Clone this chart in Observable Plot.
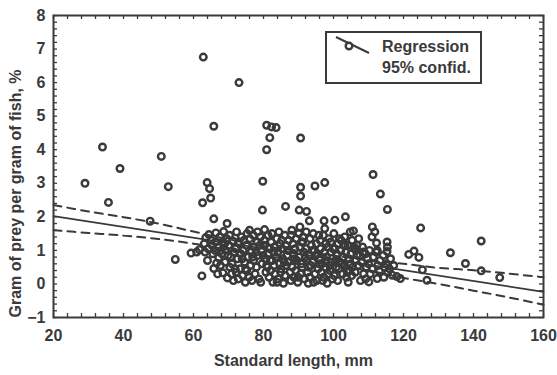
<!DOCTYPE html>
<html><head><meta charset="utf-8">
<script src="https://cdn.jsdelivr.net/npm/d3@7"></script>
<script src="https://cdn.jsdelivr.net/npm/@observablehq/plot@0.6"></script>
<style>body{margin:0;background:#fff} #chart{width:557px;height:375px}</style>
</head><body><div id="chart"></div>
<script>
const ink = "#3a3a3a";
const xTicks = [20, 40, 60, 80, 100, 120, 140, 160];
const yTicks = [-1, 0, 1, 2, 3, 4, 5, 6, 7, 8];
const xLabel = "Standard length, mm";
const yLabel = "Gram of prey per gram of fish, %";
const legendLabels = ["Regression", "95% confid."];

// Regression line (endpoints)
const regLength = [20, 160];
const regRatio = [2.02, -0.235];

// 95% confidence limits
const bandLength = [20, 30, 40, 50, 60, 70, 80, 90, 100, 110, 120, 130, 140, 150, 160];
const bandUpper = [2.35, 2.16, 1.99, 1.8, 1.56, 1.33, 1.13, 0.98, 0.85, 0.7, 0.6, 0.48, 0.41, 0.31, 0.2];
const bandLower = [1.6, 1.52, 1.44, 1.34, 1.2, 1.02, 0.85, 0.7, 0.55, 0.4, 0.18, 0.0, -0.2, -0.4, -0.62];

// Scattered fish (standard length mm, prey/fish %)
const outliers = [
  [29,3.0],[34,4.08],[35.7,2.43],[39,3.44],[47.6,1.87],[50.8,3.8],[52.8,2.9],[54.8,0.73],
  [59.3,0.92],[60.9,0.95],[61.7,1.02],[62.4,0.24],[62.6,2.42],[62.8,6.76],[63.9,3.02],[64.6,2.84],
  [64.9,2.56],[65.8,4.7],[65.8,1.94],[69.6,1.8],[73,6.0],[79.8,3.06],[80.9,4.73],[82.3,4.68],
  [83.6,4.66],[81.8,4.36],[80.9,4.0],[79.7,2.2],[86.3,2.31],[90.2,2.2],[92.3,2.16],[93.1,1.88],
  [90.4,1.7],[90.6,4.35],[90.6,2.88],[90.6,2.62],[94.7,2.92],[97.5,3.02],[95.8,1.45],[97.3,1.88],
  [97.5,1.65],[100.4,1.9],[103.4,2.0],[111.3,3.26],[113.4,2.68],[115.4,2.22],
  [111.1,1.7],[111.8,1.55],[111,1.4],[112.3,1.22],[115.3,1.25],[115.4,1.1],[115.3,0.97],[112.5,1.0],
  [106.7,1.15],[106.4,1.0],[106.7,0.86],[121.5,0.88],[123,0.98],[124.4,0.79],[124.9,1.67],
  [125.4,0.42],[126.7,0.11],[119.1,0.16],[133.4,0.93],[137.7,0.61],[142.2,1.28],[142.2,0.39],
  [147.5,0.19],[110.1,0.06],[112.5,0.16],[114.4,0.2],[116.8,0.26]
];

// Dense cluster of fish
const cluster = [
  [63.1,1.2],[63.5,1.38],[63.3,0.95],
  [64.2,1.05],[64.4,1.47],[64.0,0.7],
  [65.1,1.3],[65.5,0.9],[65.8,0.46],[65.3,1.15],
  [66.4,1.52],[66.1,1.0],[66.6,0.62],[66.3,1.25],
  [67.2,0.78],[67.5,1.4],[67.0,1.1],[67.7,0.55],
  [68.3,1.25],[68.1,0.9],[68.6,1.56],[68.4,0.33],
  [69.2,1.0],[69.5,1.35],[69.0,0.65],[69.7,0.18],
  [70.3,1.45],[70.1,1.15],[70.6,0.8],[70.4,0.5],
  [71.2,1.28],[71.6,0.95],[71.4,0.1],[71.0,0.6],
  [72.3,1.55],[72.0,1.05],[72.6,0.75],[72.2,0.35],[72.8,0.15],
  [73.1,1.2],[73.5,0.9],[73.3,0.45],[73.7,1.4],
  [74.2,1.0],[74.6,0.65],[74.0,0.25],[74.4,1.3],[74.8,0.05],
  [75.3,1.5],[75.1,1.15],[75.6,0.8],[75.2,0.4],
  [76.1,1.35],[76.5,0.95],[76.3,0.55],[76.7,0.1],[76.0,1.6],
  [77.4,1.1],[77.2,0.7],[77.6,0.3],[77.1,1.45],
  [78.2,1.25],[78.5,0.85],[78.0,0.5],[78.7,0.15],[78.3,1.55],
  [79.1,1.4],[79.4,1.0],[79.6,0.6],[79.2,0.05],
  [80.3,1.62],[80.1,1.15],[80.5,0.75],[80.7,0.35],[80.2,1.3],
  [81.4,0.9],[81.1,0.5],[81.6,0.2],[81.3,1.45],[81.8,1.05],
  [82.2,1.25],[82.5,0.7],[82.0,0.4],[82.7,0.05],[82.4,1.5],
  [83.1,1.1],[83.6,0.8],[83.3,0.3],[83.8,1.35],[83.0,0.55],
  [84.4,1.55],[84.1,0.95],[84.6,0.6],[84.2,0.15],[84.8,1.2],
  [85.2,1.3],[85.5,0.75],[85.0,0.45],[85.7,0.02],[85.3,1.05],
  [86.1,1.45],[86.4,1.15],[86.7,0.85],[86.2,0.25],[86.5,0.55],
  [87.3,1.0],[87.0,0.65],[87.6,0.35],[87.2,1.3],[87.8,0.1],
  [88.1,1.6],[88.4,1.2],[88.6,0.9],[88.2,0.5],[88.7,0.2],
  [89.3,1.35],[89.0,1.05],[89.5,0.7],[89.2,0.4],[89.8,0.05],
  [90.1,1.5],[90.4,1.1],[90.2,0.8],[90.6,0.3],[90.8,0.6],
  [91.2,1.25],[91.5,0.95],[91.0,0.5],[91.7,0.15],[91.3,1.4],
  [92.1,1.05],[92.4,0.7],[92.6,0.35],[92.2,1.55],[92.8,0.02],
  [93.3,1.35],[93.0,0.85],[93.5,0.55],[93.2,0.2],[93.7,1.15],
  [94.2,1.5],[94.5,1.0],[94.0,0.65],[94.7,0.3],[94.3,0.05],
  [95.1,1.2],[95.4,0.9],[95.6,0.45],[95.2,0.1],
  [96.3,1.05],[96.0,0.75],[96.5,0.35],[96.2,1.3],[96.7,0.6],
  [97.1,1.45],[97.4,0.95],[97.6,0.5],[97.2,0.2],[97.8,1.2],
  [98.3,1.1],[98.0,0.8],[98.5,0.3],[98.2,0.02],[98.7,1.35],
  [99.2,1.25],[99.5,0.65],[99.0,0.4],[99.7,0.15],[99.3,0.95],
  [100.1,1.5],[100.4,1.05],[100.6,0.7],[100.2,0.25],[100.8,0.5],
  [101.3,1.2],[101.0,0.85],[101.5,0.45],[101.2,0.1],[101.7,1.35],
  [102.1,1.0],[102.4,0.6],[102.6,0.3],[102.2,1.3],[102.8,0.8],
  [103.2,1.4],[103.5,0.95],[103.0,0.55],[103.7,0.2],[103.3,1.15],
  [104.1,1.15],[104.4,0.75],[104.6,0.4],[104.2,0.05],[104.8,1.55],
  [105.3,1.3],[105.0,0.9],[105.5,0.5],[105.2,0.25],[105.7,1.58],
  [106.1,1.05],[106.4,0.7],[106.2,0.35],
  [107.2,1.35],[107.5,0.85],[107.0,0.55],[107.7,0.1],
  [108.3,1.1],[108.0,0.65],[108.6,0.3],[108.5,0.95],
  [109.1,0.9],[109.4,0.5],[109.2,0.15],[109.7,0.75],
  [110.3,1.0],[110.0,0.6],[110.5,0.3],
  [111.4,0.8],[111.1,0.45],
  [112.2,0.95],[112.6,0.55],
  [113.3,0.7],[113.1,0.38],
  [114.2,0.85],[114.6,0.5],
  [115.1,0.6],[115.5,0.35],
  [116.3,0.75],[116.0,0.45],
  [117.2,0.55],[118.1,0.22],
  [66.9,0.3],[68.9,1.2],[70.9,0.3],[72.9,1.25],[74.9,0.45],[76.9,0.8],[78.9,1.15],[80.9,0.55],
  [82.9,0.95],[84.9,0.35],[86.9,1.0],[88.9,0.75],[90.9,1.25],[92.9,0.5],[94.9,0.85],[96.9,0.1],
  [98.9,0.55],[100.9,0.9],[102.9,1.15],[104.9,0.6],[67.9,1.0],[69.9,0.85],[71.9,0.45],[73.9,0.75],
  [75.9,0.2],[77.9,0.95],[79.9,0.85],[81.9,0.7],[83.9,0.05],[85.9,0.65],[87.9,1.45],[89.9,0.2],
  [91.9,0.8],[93.9,1.0],[95.9,0.6],[97.9,0.7],[99.9,1.05],[101.9,0.65],[103.9,0.35],[105.9,1.1]
];

const fish = outliers.concat(cluster).map(([length, ratio]) => ({length, ratio}));
const reg = regLength.map((length, i) => ({length, ratio: regRatio[i]}));
const upper = bandLength.map((length, i) => ({length, ratio: bandUpper[i]}));
const lower = bandLength.map((length, i) => ({length, ratio: bandLower[i]}));

const W = 557, H = 375, mL = 53, mR = 14, mT = 15, mB = 58;
const iW = W - mL - mR, iH = H - mT - mB;
const xMinor = d3.range(20, 160.01, 4);
const yMinor = d3.range(-1, 8.001, 0.2);
const font = "'Liberation Sans', Arial, sans-serif";

const plot = Plot.plot({
  width: W, height: H,
  marginLeft: mL, marginRight: mR, marginTop: mT, marginBottom: mB,
  x: {domain: [20, 160]},
  y: {domain: [-1, 8]},
  style: {fontFamily: font, fontSize: "16px", fontWeight: "bold", color: ink, background: "white", overflow: "visible"},
  marks: [
    Plot.axisX({ticks: xTicks, tickSize: 0, tickPadding: 12, label: null, fontSize: 16, fontWeight: "bold"}),
    Plot.axisY({ticks: yTicks, tickSize: 0, tickPadding: 8, label: null, fontSize: 16, fontWeight: "bold"}),
    Plot.tickX(xMinor, {x: d => d, stroke: ink, strokeWidth: 1.3, insetTop: iH - 4}),
    Plot.tickX(xMinor, {x: d => d, stroke: ink, strokeWidth: 1.3, insetBottom: iH - 4}),
    Plot.tickY(yMinor, {y: d => d, stroke: ink, strokeWidth: 1.3, insetRight: iW - 4}),
    Plot.tickY(yMinor, {y: d => d, stroke: ink, strokeWidth: 1.3, insetLeft: iW - 4}),
    Plot.line(upper, {x: "length", y: "ratio", stroke: ink, strokeWidth: 2, strokeDasharray: "8,6", curve: "catmull-rom"}),
    Plot.line(lower, {x: "length", y: "ratio", stroke: ink, strokeWidth: 2, strokeDasharray: "8,6", curve: "catmull-rom"}),
    Plot.line(reg, {x: "length", y: "ratio", stroke: ink, strokeWidth: 1.8}),
    Plot.dot(fish, {x: "length", y: "ratio", r: 3.3, stroke: ink, strokeWidth: 2.4, fill: "none"}),
    Plot.frame({stroke: ink, strokeWidth: 2}),
    Plot.text([yLabel], {frameAnchor: "left", textAnchor: "middle", rotate: -90, dx: -38, dy: 27, fontSize: 16, fontWeight: "bold", fill: ink}),
    Plot.text([xLabel], {frameAnchor: "bottom", textAnchor: "middle", lineAnchor: "bottom", dx: -5, dy: 48, fontSize: 16, fontWeight: "bold", fill: ink})
  ]
});
document.getElementById("chart").appendChild(plot);

// Legend inside the frame
const svg = d3.select(plot);
const g = svg.append("g").attr("font-family", font).attr("font-size", 16).attr("font-weight", "bold")
  .attr("fill", ink).attr("text-anchor", "start");
g.append("rect").attr("x", 326).attr("y", 32).attr("width", 155).attr("height", 51)
  .attr("fill", "white").attr("stroke", ink).attr("stroke-width", 2);
g.append("line").attr("x1", 336).attr("y1", 37).attr("x2", 369).attr("y2", 53)
  .attr("stroke", ink).attr("stroke-width", 2);
g.append("circle").attr("cx", 349).attr("cy", 46).attr("r", 3.3)
  .attr("fill", "white").attr("stroke", ink).attr("stroke-width", 2.4);
g.append("text").attr("x", 382).attr("y", 52).text(legendLabels[0]);
g.append("text").attr("x", 382).attr("y", 73).text(legendLabels[1]);
</script>
</body></html>
